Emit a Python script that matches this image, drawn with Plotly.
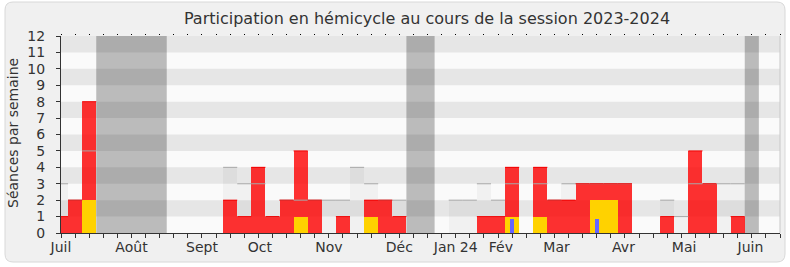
import plotly.graph_objects as go

# ---- data (one entry per week of the session, week 0 = early July 2023) ----
semaines = list(range(52))
presences = [1, 2, 8, 0, 0, 0, 0, 0, 0, 0, 0, 0,
             2, 1, 4, 1, 2, 5, 2, 0, 1, 0, 2, 2, 1,
             0, 0, 0, 0, 0,
             1, 1, 4, 0, 4, 2, 2, 3, 3, 3, 3,
             0, 0, 1, 0, 5, 3, 0, 1, 0, 0, 0]
participations = [0, 0, 2, 0, 0, 0, 0, 0, 0, 0, 0, 0,
                  0, 0, 0, 0, 0, 1, 0, 0, 0, 0, 1, 0, 0,
                  0, 0, 0, 0, 0,
                  0, 0, 1, 0, 1, 0, 0, 0, 2, 2, 0,
                  0, 0, 0, 0, 0, 0, 0, 0, 0, 0, 0]
questions = [0] * 32 + [0.85] + [0] * 5 + [0.85] + [0] * 13
mediane = [3, 2, 5, 0, 0, 0, 0, 0, 0, 0, 0, 0,
           4, 3, 3, 1, 2, 2, 2, 2, 2, 4, 3, 2, 2,
           0, 0, 0, 2, 2,
           3, 2, 3, 0, 3, 2, 3, 3, 3, 3, 3,
           0, 0, 2, 1, 3, 3, 3, 3, 0, 0, 0]
vacances = [(3, 7), (25, 26), (49, 49)]
mois_pos = [0, 5, 10, 14.1, 19, 24, 28, 31.2, 35.15, 39.9, 44.2, 48.9]
mois_lab = ["Juil", "Août", "Sept", "Oct", "Nov", "Déc", "Jan 24", "Fév",
            "Mar", "Avr", "Mai", "Juin"]
y_ticks = list(range(13))

W, H = 790, 267
ML, MR, MT, MB = 61, 10, 36, 34
PW, PH = W - ML - MR, H - MT - MB
FONT = "DejaVu Sans"
TXT = "#333333"


def px(xp):
    return (xp - ML) / PW


def py(yp):
    return (H - MB - yp) / PH


def nz(vals):
    return [v if v > 0 else None for v in vals]


fig = go.Figure()

# median (light grey area + top line)
fig.add_trace(go.Bar(x=semaines, y=mediane, width=1,
                     marker=dict(color="rgba(0,0,0,0.035)", line=dict(width=0)),
                     hoverinfo="skip"))
fig.add_trace(go.Scatter(x=semaines, y=nz(mediane), mode="markers",
                         marker=dict(size=1, color="rgba(0,0,0,0)"),
                         error_x=dict(type="data", array=[0.5] * 52, width=0,
                                      thickness=1, color="#a8a8a8"),
                         hoverinfo="skip"))
# presences (red)
fig.add_trace(go.Bar(x=semaines, y=presences, width=1,
                     marker=dict(color="rgba(255,0,0,0.8)", line=dict(width=0)),
                     hoverinfo="skip"))
fig.add_trace(go.Scatter(x=semaines, y=nz(presences), mode="markers",
                         marker=dict(size=1, color="rgba(0,0,0,0)"),
                         error_x=dict(type="data", array=[0.5] * 52, width=0,
                                      thickness=1, color="#f00000"),
                         hoverinfo="skip"))
# participations (yellow)
fig.add_trace(go.Bar(x=semaines, y=participations, width=1,
                     marker=dict(color="rgb(255,210,0)", line=dict(width=0)),
                     hoverinfo="skip"))
# questions (blue)
fig.add_trace(go.Bar(x=semaines, y=questions, width=0.3,
                     marker=dict(color="rgb(102,102,255)", line=dict(width=0)),
                     hoverinfo="skip"))
# helper traces so overlay axes render
for ax in ("x2", "x3"):
    fig.add_trace(go.Scatter(x=[0], y=[0], xaxis=ax, yaxis="y", mode="markers",
                             marker=dict(size=1, color="rgba(0,0,0,0)"),
                             hoverinfo="skip"))

shapes = []
# rounded frame
x0, y0, x1, y1, r = 5, 2, 785, 262, 8
path = (f"M {px(x0 + r)},{py(y0)} L {px(x1 - r)},{py(y0)} "
        f"Q {px(x1)},{py(y0)} {px(x1)},{py(y0 + r)} L {px(x1)},{py(y1 - r)} "
        f"Q {px(x1)},{py(y1)} {px(x1 - r)},{py(y1)} L {px(x0 + r)},{py(y1)} "
        f"Q {px(x0)},{py(y1)} {px(x0)},{py(y1 - r)} L {px(x0)},{py(y0 + r)} "
        f"Q {px(x0)},{py(y0)} {px(x0 + r)},{py(y0)} Z")
shapes.append(dict(type="path", path=path, xref="paper", yref="paper",
                   fillcolor="#f0f0f0", line=dict(color="#d8d8d8", width=1),
                   layer="below"))
# plot background and bands
shapes.append(dict(type="rect", xref="paper", yref="y", x0=0, x1=1, y0=0, y1=12,
                   fillcolor="#fafafa", line=dict(width=0), layer="below"))
for k in range(1, 12, 2):
    shapes.append(dict(type="rect", xref="paper", yref="y", x0=0, x1=1,
                       y0=k, y1=k + 1, fillcolor="#e6e6e6", line=dict(width=0),
                       layer="below"))
# vacations
for a, b in vacances:
    shapes.append(dict(type="rect", xref="x", yref="y", x0=a - 0.5, x1=b + 0.5,
                       y0=0, y1=12, fillcolor="rgba(0,0,0,0.25)",
                       line=dict(width=0), layer="below"))
# right frame line
shapes.append(dict(type="line", xref="paper", yref="paper", x0=1, x1=1, y0=0,
                   y1=1, line=dict(color="#c8c8c8", width=1)))

fig.update_layout(
    width=W, height=H,
    margin=dict(l=ML, r=MR, t=MT, b=MB, pad=0),
    paper_bgcolor="white", plot_bgcolor="rgba(0,0,0,0)",
    barmode="overlay", bargap=0, showlegend=False, hovermode=False,
    font=dict(family=FONT, size=14, color=TXT),
    title=dict(text="Participation en hémicycle au cours de la session 2023-2024",
               x=427 / W, xanchor="center", y=1 - 18 / H, yanchor="middle",
               font=dict(family=FONT, size=16, color=TXT)),
    shapes=shapes,
    xaxis=dict(range=[0, 51], tickvals=semaines, ticks="outside", ticklen=4,
               tickcolor=TXT, showticklabels=False, showline=True,
               linecolor=TXT, linewidth=1, showgrid=False, zeroline=False,
               fixedrange=True),
    xaxis2=dict(overlaying="x", anchor="y", side="bottom", range=[0, 51],
                tickvals=mois_pos, ticktext=mois_lab, ticks="",
                showline=False, showgrid=False, zeroline=False,
                tickfont=dict(family=FONT, size=14, color=TXT),
                ticklabelstandoff=4, fixedrange=True),
    xaxis3=dict(overlaying="x", anchor="y", side="top", range=[0, 51],
                tickvals=semaines, ticks="outside", ticklen=1, tickcolor="#000",
                showticklabels=False, showline=False, showgrid=False,
                zeroline=False, fixedrange=True),
    yaxis=dict(range=[0, 12], tickvals=y_ticks, ticks="outside", ticklen=4,
               tickcolor=TXT, showline=True, linecolor=TXT, linewidth=1,
               showgrid=False, zeroline=False,
               tickfont=dict(family=FONT, size=14, color=TXT),
               ticklabelstandoff=8, fixedrange=True),
    annotations=[dict(text="Séances par semaine", textangle=-90,
                      xref="paper", yref="paper", x=px(13), y=py(133),
                      xanchor="center", yanchor="middle", showarrow=False,
                      font=dict(family=FONT, size=14, color=TXT))],
)

fig.write_html("out.html")
